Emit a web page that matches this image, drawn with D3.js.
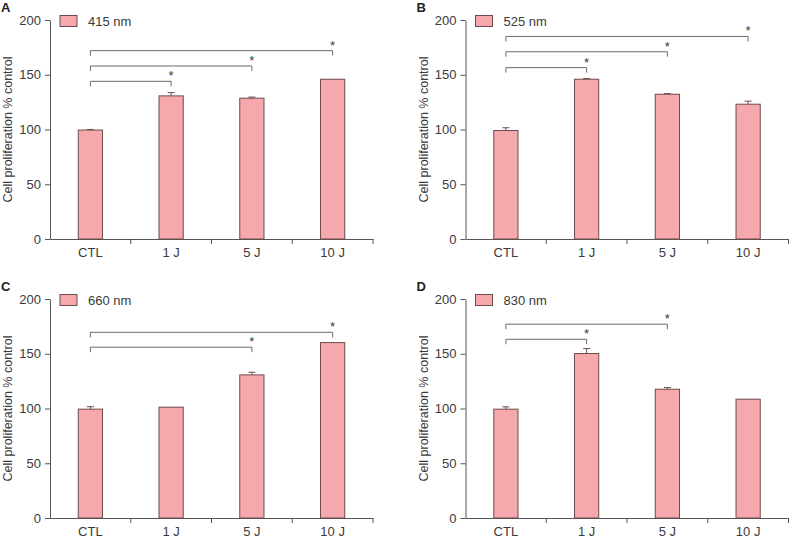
<!DOCTYPE html>
<html>
<head>
<meta charset="utf-8">
<script src="https://cdn.jsdelivr.net/npm/d3@7"></script>
<style>
  html, body { margin: 0; padding: 0; background: #fff; }
  svg { display: block; font-family: Arial, "Liberation Sans", sans-serif; }
</style>
</head>
<body>
<svg id="chart" width="789" height="538"></svg>
<script>
// categories shared by all four panels
const categories = ['CTL', '1 J', '5 J', '10 J'];
const yTicks = [0, 50, 100, 150, 200];

// panel A - 415 nm
const valuesA = [99.5, 130.7, 128.6, 145.9];
const errorsA = [0.5, 3.0, 1.0, 0];
const bracketsA = [{ to: 1, level: 144 }, { to: 2, level: 158 }, { to: 3, level: 172 }];

// panel B - 525 nm
const valuesB = [99.1, 145.9, 132.2, 123.1];
const errorsB = [2.5, 0.6, 0.6, 2.8];
const bracketsB = [{ to: 1, level: 156.5 }, { to: 2, level: 171 }, { to: 3, level: 185 }];

// panel C - 660 nm
const valuesC = [99.4, 101.2, 130.7, 160.2];
const errorsC = [2.2, 0, 2.4, 0];
const bracketsC = [{ to: 2, level: 156 }, { to: 3, level: 169.6 }];

// panel D - 830 nm
const valuesD = [99.4, 150.2, 117.6, 108.5];
const errorsD = [2.1, 4.5, 1.5, 0];
const bracketsD = [{ to: 1, level: 163.2 }, { to: 2, level: 177 }];

const panels = [
  { letter: 'A', legend: '415 nm', values: valuesA, errors: errorsA, brackets: bracketsA, left: 50, top: 20 },
  { letter: 'B', legend: '525 nm', values: valuesB, errors: errorsB, brackets: bracketsB, left: 465.5, top: 20 },
  { letter: 'C', legend: '660 nm', values: valuesC, errors: errorsC, brackets: bracketsC, left: 50, top: 299 },
  { letter: 'D', legend: '830 nm', values: valuesD, errors: errorsD, brackets: bracketsD, left: 465.5, top: 299 }
];

const plotW = 323;
const plotH = 219;
const barFill = '#f5a9ad';
const barStroke = '#6e4b4b';
const axisColor = '#555';
const textColor = '#3a3a3a';
const bracketColor = '#6a6a6a';

const svg = d3.select('#chart');

panels.forEach(p => drawPanel(p));

function drawPanel(p) {
  const g = svg.append('g').attr('transform', `translate(${p.left},${p.top})`);

  const x = d3.scaleBand()
    .domain(categories)
    .range([0, plotW])
    .paddingInner(0.7)
    .paddingOuter(0.35);

  const y = d3.scaleLinear()
    .domain([0, 200])
    .range([plotH, 0]);

  // y axis
  g.append('g')
    .call(d3.axisLeft(y).tickValues(yTicks).tickSize(5).tickSizeOuter(0).tickPadding(4))
    .call(ax => ax.selectAll('path, line').attr('stroke', axisColor))
    .call(ax => ax.selectAll('text').attr('fill', textColor).attr('font-size', 13));

  // x axis (labels centred on bars)
  g.append('g')
    .attr('transform', `translate(0,${plotH})`)
    .call(d3.axisBottom(x).tickSize(0).tickSizeOuter(0).tickPadding(9))
    .call(ax => ax.select('.domain').attr('stroke', axisColor))
    .call(ax => ax.selectAll('text').attr('fill', textColor).attr('font-size', 13));

  // category separator ticks on x axis
  const step = x.step();
  const boundaries = categories.map((c, i) => x(c) - step * 0.35 + step);
  g.selectAll('.sep')
    .data(boundaries)
    .enter()
    .append('line')
    .attr('x1', d => d).attr('x2', d => d)
    .attr('y1', plotH).attr('y2', plotH + 5)
    .attr('stroke', axisColor);

  // bars
  g.selectAll('.bar')
    .data(p.values)
    .enter()
    .append('rect')
    .attr('x', (d, i) => x(categories[i]))
    .attr('y', d => y(d))
    .attr('width', x.bandwidth())
    .attr('height', d => plotH - y(d))
    .attr('fill', barFill)
    .attr('stroke', barStroke)
    .attr('stroke-width', 1);

  // upper error bars
  p.values.forEach((v, i) => {
    const e = p.errors[i];
    if (!e) return;
    const cx = x(categories[i]) + x.bandwidth() / 2;
    g.append('line')
      .attr('x1', cx).attr('x2', cx)
      .attr('y1', y(v)).attr('y2', y(v + e))
      .attr('stroke', barStroke);
    g.append('line')
      .attr('x1', cx - 3.5).attr('x2', cx + 3.5)
      .attr('y1', y(v + e)).attr('y2', y(v + e))
      .attr('stroke', barStroke);
  });

  // significance brackets
  const x0 = x(categories[0]) + x.bandwidth() / 2;
  p.brackets.forEach(b => {
    const x1 = x(categories[b.to]) + x.bandwidth() / 2;
    const yy = y(b.level);
    g.append('path')
      .attr('d', `M${x0},${yy + 5}V${yy}H${x1}V${yy + 5}`)
      .attr('fill', 'none')
      .attr('stroke', bracketColor)
      .attr('stroke-width', 1);
    g.append('text')
      .attr('x', x1)
      .attr('y', yy - 1)
      .attr('text-anchor', 'middle')
      .attr('font-size', 13)
      .attr('fill', textColor)
      .text('*');
  });

  // legend
  g.append('rect')
    .attr('x', 10)
    .attr('y', -4.5)
    .attr('width', 17)
    .attr('height', 11)
    .attr('fill', barFill)
    .attr('stroke', barStroke);
  g.append('text')
    .attr('x', 38)
    .attr('y', 6)
    .attr('font-size', 13)
    .attr('fill', textColor)
    .text(p.legend);

  // y axis title
  g.append('text')
    .attr('transform', `translate(-38,${plotH / 2}) rotate(-90)`)
    .attr('text-anchor', 'middle')
    .attr('font-size', 12.5)
    .attr('fill', textColor)
    .text('Cell proliferation % control');

  // panel letter
  g.append('text')
    .attr('x', -49)
    .attr('y', -8)
    .attr('font-size', 13)
    .attr('font-weight', 'bold')
    .attr('fill', '#222')
    .text(p.letter);
}
</script>
</body>
</html>
